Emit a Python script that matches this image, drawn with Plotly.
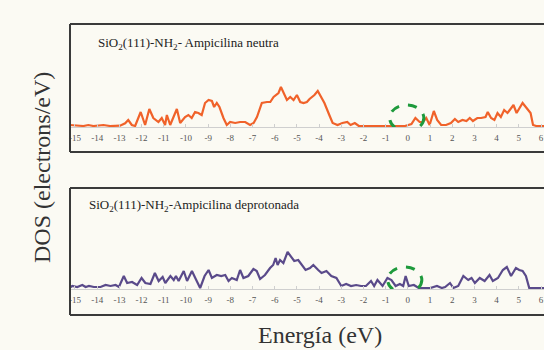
import plotly.graph_objects as go

# ---- data (energies in eV, DOS in arbitrary units) ----
neutral_E = [-15.23, -14.92, -14.62, -14.4, -14.17, -13.72, -13.42, -12.97, -12.74, -12.6,
             -12.44, -12.29, -12.04, -11.84, -11.65, -11.47, -11.24, -11.09, -10.94, -10.86,
             -10.71, -10.41, -10.26, -10.04, -9.89, -9.74, -9.59, -9.44, -9.29, -9.14,
             -8.98, -8.83, -8.73, -8.61, -8.49, -8.31, -8.16, -8.01, -7.78, -7.56,
             -7.33, -7.11, -6.95, -6.8, -6.58, -6.35, -6.2, -6.05, -5.83, -5.72,
             -5.6, -5.45, -5.3, -5.15, -5.0, -4.85, -4.7, -4.55, -4.43, -4.21,
             -4.06, -3.91, -3.76, -3.54, -3.39, -3.17, -2.95, -2.73, -2.58, -2.39,
             -2.21, -1.61, -0.73, -0.13, 0.16, 0.34, 0.53, 0.68, 0.83, 0.98,
             1.17, 1.32, 1.5, 1.72, 1.94, 2.12, 2.27, 2.46, 2.64, 2.79,
             2.93, 3.13, 3.3, 3.5, 3.6, 3.75, 3.9, 4.04, 4.19, 4.34,
             4.49, 4.76, 4.9, 5.17, 5.35, 5.53, 5.64, 5.79, 6.04, 6.2]
neutral_DOS = [1, 0.3, 0, 1, 0, 1, 0, 0.3, 2.7, 6,
               1, 0, 14, 1, 17, 8, 4, 8, 1, 11,
               1, 17, 3, 9, 11, 8, 14, 13, 11, 23,
               26, 25, 19, 23, 19, 8, 1, 4, 3, 4,
               4, 1, 3, 9, 23, 24, 24, 29, 33, 39,
               33, 26, 29, 26, 31, 24, 23, 24, 27, 31,
               35, 29, 23, 11, 3, 1, 3, 4, 1, 3,
               0, 0, 0, 0, 2, 8, 4, 4, 8, 1,
               15, 6, 1, 1, 3, 7, 4, 6, 5, 8,
               5, 8, 8, 9, 14, 8, 6, 13, 9, 16,
               13, 21, 13, 23, 18, 13, 1, 0, 0, 0]

deprot_E = [-15.27, -15.12, -14.9, -14.67, -14.52, -14.37, -14.15, -13.85, -13.62, -13.4,
            -13.17, -13.02, -12.8, -12.65, -12.43, -12.2, -12.0, -11.83, -11.6, -11.4,
            -11.23, -11.05, -10.93, -10.7, -10.55, -10.45, -10.33, -10.1, -9.95, -9.73,
            -9.58, -9.36, -9.16, -8.98, -8.83, -8.61, -8.41, -8.23, -8.08, -7.93,
            -7.71, -7.56, -7.41, -7.19, -6.96, -6.81, -6.66, -6.44, -6.21, -6.07,
            -5.96, -5.87, -5.76, -5.61, -5.42, -5.27, -5.12, -4.94, -4.79, -4.61,
            -4.41, -4.26, -4.04, -3.89, -3.67, -3.45, -3.22, -3.0, -2.78, -2.56,
            -2.33, -2.11, -1.89, -1.66, -1.52, -1.37, -1.14, -0.92, -0.74, -0.55,
            -0.36, -0.21, -0.1, 0.04, 0.27, 0.49, 1.01, 1.31, 1.53, 1.68,
            1.9, 2.05, 2.27, 2.5, 2.72, 2.87, 3.02, 3.24, 3.46, 3.68,
            3.83, 4.06, 4.28, 4.46, 4.65, 4.87, 5.02, 5.17, 5.32, 5.47,
            5.76, 6.02, 6.2]
deprot_DOS = [0, 2, 1, 3, 1, 2, 1, 1, 3, 2,
              3, 1, 12, 5, 6, 3, 10, 5, 4, 15,
              7, 11, 5, 12, 8, 12, 7, 17, 7, 17,
              10, 0, 12, 18, 10, 13, 12, 13, 7, 10,
              8, 18, 10, 12, 19, 17, 9, 13, 20, 23,
              30, 23, 28, 25, 36, 32, 27, 28, 23, 18,
              20, 23, 18, 15, 17, 12, 10, 2, 4, 2,
              3, 2, 2, 7, 2, 8, 2, 10, 8, 2,
              4, 2, 12, 2, 3, 0, 0, 2, 0, 1,
              5, 0, 2, 12, 8, 10, 5, 10, 7, 13,
              7, 10, 18, 21, 12, 20, 18, 17, 12, 0,
              0, 0, 0]

tick_vals = list(range(-15, 7))
tick_text = [str(v) for v in tick_vals]

panel_labels = ["SiO<sub>2</sub>(111)-NH<sub>2</sub>- Ampicilina neutra",
                "SiO<sub>2</sub>(111)-NH<sub>2</sub>-Ampicilina deprotonada"]
y_title = "DOS (electrons/eV)"
x_title = "Energía (eV)"

# ---- layout helpers (screen-pixel geometry) ----
W, H = 544, 350
def px(x):
    return x / W
def py(y):
    return 1 - y / H

BG = "#fbfaf3"
ORANGE = "#f0622a"
PURPLE = "#5a4a8a"
GREEN = "#1e9a3c"
SERIF = "Liberation Serif"

fig = go.Figure()
fig.add_trace(go.Scatter(x=neutral_E, y=neutral_DOS, mode="lines",
                         line=dict(color=ORANGE, width=2.2), xaxis="x", yaxis="y",
                         showlegend=False, hoverinfo="skip"))
fig.add_trace(go.Scatter(x=deprot_E, y=deprot_DOS, mode="lines",
                         line=dict(color=PURPLE, width=2.2), xaxis="x2", yaxis="y2",
                         showlegend=False, hoverinfo="skip"))

xr = [-15.225, 6.135]
xcommon = dict(range=xr, domain=[px(70), 1], tickmode="array", tickvals=tick_vals,
               ticktext=tick_text, showgrid=False, zeroline=False, showline=True,
               linecolor="#cfcfcf", linewidth=1, ticks="inside", ticklen=3,
               tickcolor="#cfcfcf", tickfont=dict(family=SERIF, size=9, color="#555555"),
               ticklabelstandoff=2, ticklabeloverflow="allow", fixedrange=True)
ycommon = dict(showgrid=False, zeroline=False, showline=False, showticklabels=False,
               ticks="", fixedrange=True)

fig.update_layout(
    width=W, height=H,
    margin=dict(l=0, r=0, t=0, b=0, autoexpand=False),
    paper_bgcolor=BG, plot_bgcolor=BG,
    xaxis=dict(anchor="y", **xcommon),
    yaxis=dict(domain=[py(127), py(24)], range=[-1, 102], **ycommon),
    xaxis2=dict(anchor="y2", **xcommon),
    yaxis2=dict(domain=[py(289), py(188)], range=[-1, 100], **ycommon),
)

# frames around panels (right edge runs off the picture)
box_line = dict(color="#3a3a3a", width=2)
for top, bot in [(24, 152), (188, 315)]:
    fig.add_shape(type="line", xref="paper", yref="paper", x0=px(70), x1=1.02,
                  y0=py(top), y1=py(top), line=box_line)
    fig.add_shape(type="line", xref="paper", yref="paper", x0=px(70), x1=1.02,
                  y0=py(bot), y1=py(bot), line=box_line)
    fig.add_shape(type="line", xref="paper", yref="paper", x0=px(70), x1=px(70),
                  y0=py(top), y1=py(bot), line=box_line)

# green dashed circles around the Fermi level
fig.add_shape(type="circle", xref="x", yref="y", x0=-0.82, x1=0.72, y0=-5, y1=21,
              line=dict(color=GREEN, width=3, dash="dash"))
fig.add_shape(type="circle", xref="x2", yref="y2", x0=-0.91, x1=0.63, y0=-5, y1=21,
              line=dict(color=GREEN, width=3, dash="dash"))

# panel labels
fig.add_annotation(xref="paper", yref="paper", x=px(96), y=py(43), xanchor="left",
                   yanchor="middle", text=panel_labels[0], showarrow=False,
                   font=dict(family=SERIF, size=13, color="#222222"))
fig.add_annotation(xref="paper", yref="paper", x=px(87), y=py(205), xanchor="left",
                   yanchor="middle", text=panel_labels[1], showarrow=False,
                   font=dict(family=SERIF, size=13, color="#222222"))

# axis titles
fig.add_annotation(xref="paper", yref="paper", x=px(42), y=py(168), text=y_title,
                   textangle=-90, showarrow=False, xanchor="center", yanchor="middle",
                   font=dict(family=SERIF, size=24, color="#333333"))
fig.add_annotation(xref="paper", yref="paper", x=px(320), y=py(335), text=x_title,
                   showarrow=False, xanchor="center", yanchor="middle",
                   font=dict(family=SERIF, size=24, color="#333333"))

fig.write_html(
    "out.html",
    config={"displayModeBar": False, "staticPlot": True},
    post_script="document.body.style.margin='0';"
                "document.documentElement.style.overflow='hidden';",
)
